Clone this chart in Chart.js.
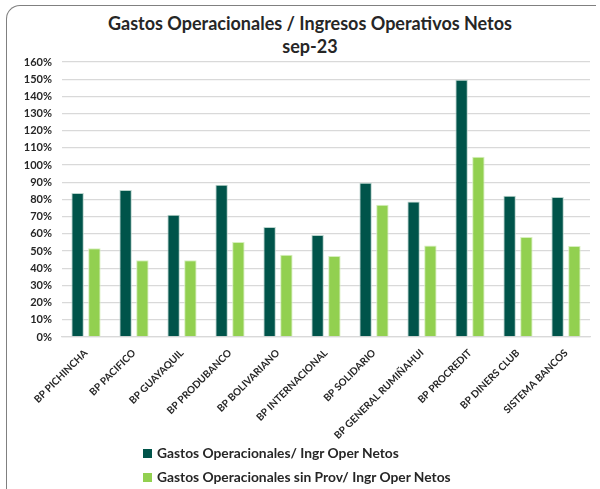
<!DOCTYPE html>
<html>
<head>
<meta charset="utf-8">
<script src="https://cdn.jsdelivr.net/npm/chart.js@4.4.0/dist/chart.umd.min.js"></script>
<style>
  html, body { margin: 0; padding: 0; background: #fff; }
  #wrap { position: relative; width: 600px; height: 489px; overflow: hidden; font-family: Lato, "Open Sans", sans-serif; }
  #frame { position: absolute; left: 6px; top: 5px; width: 600px; height: 520px; border-top: 1.5px solid #808080; border-left: 1.5px solid #808080; border-top-left-radius: 14px; box-sizing: border-box; }
  #frame-cut { position: absolute; left: 596px; top: 0; width: 10px; height: 12px; background: #fff; }
  #title { position: absolute; left: 0; width: 620px; top: 12px; text-align: center; font-weight: bold; font-size: 18px; line-height: 23px; color: #262626; }
  canvas { position: absolute; left: 0; top: 0; }
  #legend { position: absolute; left: 143px; top: 442px; font-weight: bold; font-size: 13.8px; color: #262626; }
  #legend div { height: 24px; line-height: 22px; white-space: nowrap; }
  #legend span { display: inline-block; width: 9px; height: 9px; margin-right: 5px; vertical-align: 0px; }
</style>
</head>
<body>
<div id="wrap">
  <div id="frame"></div>
  <div id="frame-cut"></div>
  <div id="title">Gastos Operacionales / Ingresos Operativos Netos<br>sep-23</div>
  <canvas id="myChart" width="600" height="489"></canvas>
  <div id="legend"></div>
</div>
<script>
const categories = ['BP PICHINCHA', 'BP PACIFICO', 'BP GUAYAQUIL', 'BP PRODUBANCO', 'BP BOLIVARIANO',
  'BP INTERNACIONAL', 'BP SOLIDARIO', 'BP GENERAL RUMIÑAHUI', 'BP PROCREDIT', 'BP DINERS CLUB', 'SISTEMA BANCOS'];
const gastosIngr = [83.8, 85.5, 71.2, 88.6, 64.0, 59.3, 89.8, 78.9, 149.7, 82.2, 81.4];
const gastosSinProv = [51.6, 44.6, 44.6, 55.3, 47.9, 47.1, 77.0, 53.2, 104.9, 58.2, 52.9];
const seriesNames = ['Gastos Operacionales/ Ingr Oper Netos', 'Gastos Operacionales sin Prov/ Ingr Oper Netos'];
const seriesColors = ['#00544a', '#92d050'];

const ctx = document.getElementById('myChart').getContext('2d');
const chart = new Chart(ctx, {
  type: 'bar',
  data: {
    labels: categories,
    datasets: [
      { label: seriesNames[0], data: gastosIngr, backgroundColor: seriesColors[0], borderColor: '#b9d3cc', borderWidth: 1 },
      { label: seriesNames[1], data: gastosSinProv, backgroundColor: seriesColors[1], borderColor: '#d6efbd', borderWidth: 1 }
    ]
  },
  options: {
    responsive: false,
    animation: false,
    categoryPercentage: 0.7,
    barPercentage: 0.74,
    layout: { padding: { left: 6, right: 10, top: 62, bottom: 48 } },
    plugins: {
      legend: { display: false },
      title: { display: false },
      tooltip: { enabled: false }
    },
    scales: {
      y: {
        min: 0,
        max: 160,
        ticks: {
          stepSize: 10,
          padding: 10,
          color: '#262626',
          font: { family: 'Lato', weight: 'bold', size: 11 },
          callback: (v) => `${v}%`
        },
        grid: { color: '#d9d9d9', lineWidth: 1.3, drawTicks: false },
        border: { display: false },
        afterFit: (scale) => { scale.width = 56; }
      },
      x: {
        ticks: {
          minRotation: 45,
          maxRotation: 45,
          padding: 2,
          color: '#262626',
          font: { family: 'Lato', weight: 'bold', size: 10 }
        },
        grid: { display: false },
        border: { color: '#d9d9d9', width: 1.3 },
        afterFit: (scale) => { scale.height = 104; }
      }
    }
  }
});

const legendEl = document.getElementById('legend');
chart.data.datasets.forEach((ds) => {
  const row = document.createElement('div');
  const box = document.createElement('span');
  box.style.background = ds.backgroundColor;
  row.appendChild(box);
  row.appendChild(document.createTextNode(ds.label));
  legendEl.appendChild(row);
});
</script>
</body>
</html>
